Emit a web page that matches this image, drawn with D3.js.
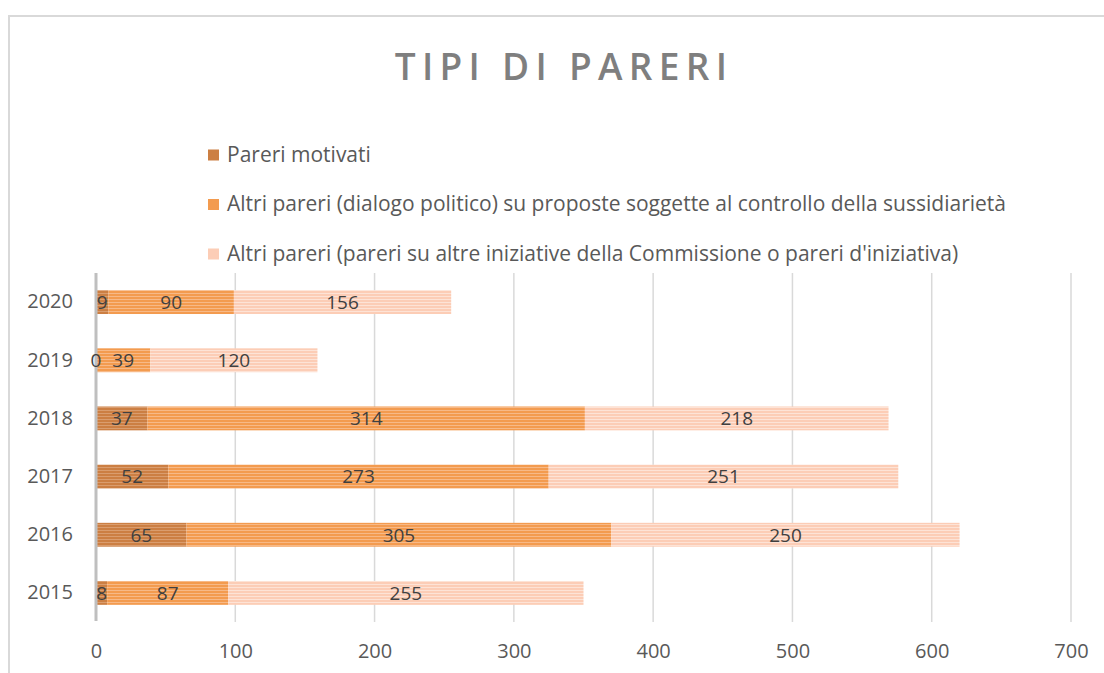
<!DOCTYPE html>
<html>
<head>
<meta charset="utf-8">
<script src="https://cdn.jsdelivr.net/npm/d3@7"></script>
<style>
  body { margin: 0; background: #fff; }
  text { font-family: "Open Sans", "Noto Sans", sans-serif; }
</style>
</head>
<body>
<div id="chart"></div>
<script>
const years = ["2020", "2019", "2018", "2017", "2016", "2015"]
const series = [
  "Pareri motivati",
  "Altri pareri (dialogo politico) su proposte soggette al controllo della sussidiarietà",
  "Altri pareri (pareri su altre iniziative della Commissione o pareri d'iniziativa)"
]
const motivati = [9, 0, 37, 52, 65, 8]
const dialogo = [90, 39, 314, 273, 305, 87]
const altri = [156, 120, 218, 251, 250, 255]
const xTicks = [0, 100, 200, 300, 400, 500, 600, 700]

const width = 1104
const height = 673

// colori: base + riga chiara del tratteggio
const colors = [
  { base: "#cc7f43", stripe: "#da9d6e" },
  { base: "#f39b4f", stripe: "#f7b987" },
  { base: "#fccdb6", stripe: "#fde3d6" }
]

const svg = d3.select('#chart')
  .append('svg')
  .attr('width', width)
  .attr('height', height)

const defs = svg.append('defs')
colors.forEach((c, i) => {
  const p = defs.append('pattern')
    .attr('id', 'stripe' + i)
    .attr('patternUnits', 'userSpaceOnUse')
    .attr('width', 6)
    .attr('height', 3)
  p.append('rect').attr('width', 6).attr('height', 3).attr('fill', c.base)
  p.append('rect').attr('y', 2).attr('width', 6).attr('height', 1).attr('fill', c.stripe)
})

// cornice
svg.append('rect')
  .attr('x', 9).attr('y', 16)
  .attr('width', width + 10).attr('height', height + 10)
  .attr('fill', 'none')
  .attr('stroke', '#d9d9d9')
  .attr('stroke-width', 2)

svg.append('text')
  .attr('x', 564)
  .attr('y', 80)
  .attr('text-anchor', 'middle')
  .attr('fill', '#7f7f7f')
  .attr('font-size', 37)
  .attr('font-weight', 600)
  .attr('letter-spacing', 6.3)
  .text('TIPI DI PARERI')

// legenda
const legend = svg.append('g')
series.forEach((s, i) => {
  const y = 154.5 + i * 49.5
  legend.append('rect')
    .attr('x', 208).attr('y', y - 5)
    .attr('width', 11).attr('height', 11)
    .attr('fill', colors[i].base)
  legend.append('text')
    .attr('x', 227).attr('y', y)
    .attr('dy', '0.35em')
    .attr('fill', '#595959')
    .attr('font-size', 21)
    .text(s)
})

const xScale = d3.scaleLinear()
  .domain([0, 700])
  .range([96, 1071])

const yScale = d3.scaleBand()
  .domain(years)
  .range([273, 622])
  .paddingInner(0.59)
  .paddingOuter(0.295)

// griglia
svg.append('g')
  .selectAll('line')
  .data(xTicks.slice(1))
  .join('line')
  .attr('x1', d => xScale(d)).attr('x2', d => xScale(d))
  .attr('y1', 273).attr('y2', 622)
  .attr('stroke', '#d9d9d9')
  .attr('stroke-width', 1.5)

const xAxis = d3.axisBottom(xScale)
  .tickValues(xTicks)
  .tickSize(0)
  .tickPadding(21.5)

const xAxisG = svg.append('g')
  .attr('transform', 'translate(0,622)')
  .call(xAxis)
xAxisG.select('.domain').remove()
xAxisG.selectAll('text')
  .attr('fill', '#595959')
  .attr('font-size', 20)
  .attr('font-family', '"Open Sans", sans-serif')

const yAxis = d3.axisLeft(yScale).tickSize(0).tickPadding(23)
const yAxisG = svg.append('g')
  .attr('transform', 'translate(96,0)')
  .call(yAxis)
yAxisG.select('.domain').remove()
yAxisG.selectAll('text')
  .attr('fill', '#595959')
  .attr('font-size', 20)
  .attr('font-family', '"Open Sans", sans-serif')

const table = years.map((y, i) => ({ year: y, 0: motivati[i], 1: dialogo[i], 2: altri[i] }))
const stacked = d3.stack().keys([0, 1, 2])(table)

const layers = svg.append('g')
  .selectAll('g')
  .data(stacked)
  .join('g')

layers.selectAll('rect')
  .data(d => d)
  .join('rect')
  .attr('fill', function() { return `url(#stripe${d3.select(this.parentNode).datum().index})` })
  .attr('x', d => xScale(d[0]))
  .attr('y', d => yScale(d.data.year))
  .attr('width', d => xScale(d[1]) - xScale(d[0]))
  .attr('height', yScale.bandwidth())

// asse verticale sopra le barre
svg.append('line')
  .attr('x1', 96).attr('x2', 96)
  .attr('y1', 273).attr('y2', 621)
  .attr('stroke', '#bfbfbf')
  .attr('stroke-width', 3)

// etichette sopra tutte le barre
svg.append('g')
  .selectAll('g')
  .data(stacked)
  .join('g')
  .selectAll('text')
  .data(d => d)
  .join('text')
  .attr('x', d => (xScale(d[0]) + xScale(d[1])) / 2)
  .attr('y', d => yScale(d.data.year) + yScale.bandwidth() / 2)
  .attr('dy', '0.36em')
  .attr('text-anchor', 'middle')
  .attr('fill', '#404040')
  .attr('font-size', 19)
  .text(d => d[1] - d[0])
</script>
</body>
</html>
